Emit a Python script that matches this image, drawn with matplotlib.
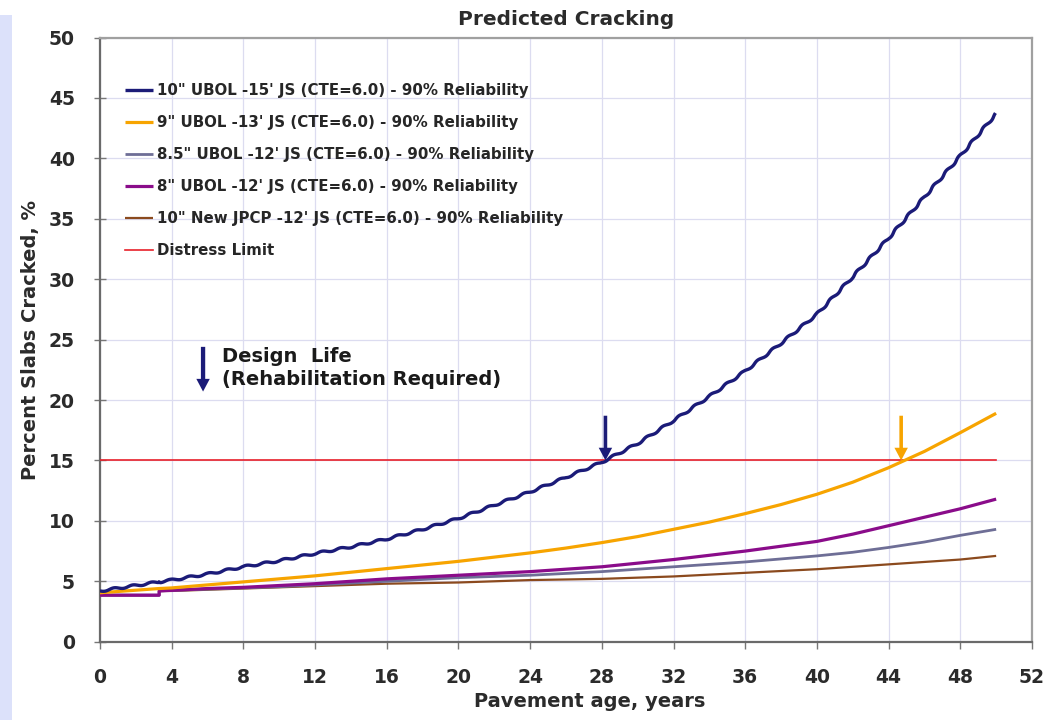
#!/usr/bin/env python3
"""Predicted slab cracking for UBOL and new JPCP design alternatives."""

import matplotlib

matplotlib.use("Agg")

import matplotlib.pyplot as plt
from matplotlib.patches import Rectangle


YEARS = [0, 3.3, 3.3, 4, 6, 8, 10, 12, 14, 16, 18, 20, 22, 24, 26,
         28, 30, 32, 34, 36, 38, 40, 42, 44, 46, 48, 50]
UBOL_10_15 = [4.2, 4.95, 4.95, 5.1, 5.6, 6.2, 6.7, 7.3, 7.85, 8.5, 9.3, 10.2, 11.3, 12.4, 13.6,
              14.85, 16.4, 18.3, 20.3, 22.4, 24.7, 27.1, 30.2, 33.4, 36.8, 40.2, 43.7]
UBOL_9_13 = [4.05, 4.4, 4.4, 4.45, 4.7, 4.95, 5.2, 5.45, 5.75, 6.05, 6.35, 6.65, 7.0, 7.35, 7.75,
             8.2, 8.7, 9.3, 9.9, 10.6, 11.35, 12.2, 13.2, 14.4, 15.75, 17.3, 18.9]
UBOL_85_12 = [3.85, 3.85, 4.2, 4.25, 4.35, 4.45, 4.55, 4.7, 4.85, 5.0, 5.15, 5.3, 5.4, 5.5, 5.65,
              5.8, 6.0, 6.2, 6.4, 6.6, 6.85, 7.1, 7.4, 7.8, 8.25, 8.8, 9.3]
UBOL_8_12 = [3.85, 3.85, 4.2, 4.25, 4.4, 4.5, 4.65, 4.8, 5.0, 5.2, 5.35, 5.5, 5.65, 5.8, 6.0,
             6.2, 6.5, 6.8, 7.15, 7.5, 7.9, 8.3, 8.9, 9.6, 10.3, 11.0, 11.8]
JPCP_10_12 = [3.85, 3.85, 4.2, 4.2, 4.3, 4.4, 4.5, 4.6, 4.7, 4.8, 4.85, 4.9, 5.0, 5.1, 5.15,
              5.2, 5.3, 5.4, 5.55, 5.7, 5.85, 6.0, 6.2, 6.4, 6.6, 6.8, 7.1]
DISTRESS_LIMIT = 15

SERIES_LABELS = [
    "10\" UBOL -15' JS (CTE=6.0) - 90% Reliability",
    "9\" UBOL -13' JS (CTE=6.0) - 90% Reliability",
    "8.5\" UBOL -12' JS (CTE=6.0) - 90% Reliability",
    "8\" UBOL -12' JS (CTE=6.0) - 90% Reliability",
    "10\" New JPCP -12' JS (CTE=6.0) - 90% Reliability",
    "Distress Limit",
]
X_TICKS = list(range(0, 53, 4))
Y_TICKS = list(range(0, 51, 5))

# year at which each curve hits the distress limit (blue, orange)
DESIGN_LIFE = [28.2, 44.7]
ARROW_TOP = 18.7
NOTE_ARROW = (5.75, 24.4, 20.7)

NAVY = "#1b1b78"
COLORS = [NAVY, "#f7a400", "#6e6e96", "#8a0c8a", "#8b4a1e", "#e8202a"]
WIDTHS = [2.4, 2.3, 2.0, 2.3, 1.6, 1.2]


def main() -> None:
    figure = plt.figure(figsize=(10.56, 7.2), dpi=100)
    figure.add_artist(Rectangle((0, 0), 12 / 1056, 1 - 15 / 720,
                                transform=figure.transFigure, color="#dce1fa", lw=0))
    axis = figure.add_axes([100 / 1056, 1 - 641.7 / 720, 932 / 1056, 604.2 / 720])

    series = [UBOL_10_15, UBOL_9_13, UBOL_85_12, UBOL_8_12, JPCP_10_12]
    lines = []
    for values, color, width, z in zip(series, COLORS, WIDTHS, (6, 5, 3, 4, 2)):
        (line,) = axis.plot(YEARS, values, color=color, lw=width, zorder=z,
                            solid_capstyle="butt")
        lines.append(line)
    (limit,) = axis.plot([YEARS[0], YEARS[-1]], [DISTRESS_LIMIT] * 2,
                         color=COLORS[5], lw=WIDTHS[5], zorder=3)
    lines.append(limit)
    # seasonal ripple of the monthly prediction
    lines[0].set_sketch_params(scale=1.0, length=19, randomness=1)

    legend = axis.legend(lines, SERIES_LABELS, loc="upper left",
                         bbox_to_anchor=(0.0268, 0.924), frameon=False,
                         borderpad=0, borderaxespad=0, handlelength=1.9,
                         handletextpad=0.25, labelspacing=1.13,
                         prop={"size": 10.8, "weight": "bold"})
    for handle in legend.get_lines():
        handle.set_sketch_params(None)
    for text in legend.get_texts():
        text.set_color("#262626")

    for year, color in zip(DESIGN_LIFE, (NAVY, COLORS[1])):
        axis.arrow(year, ARROW_TOP, 0, DISTRESS_LIMIT - ARROW_TOP, width=0.2,
                   head_width=0.75, head_length=1.05, length_includes_head=True,
                   color=color, lw=0, zorder=7)
    x, top, bottom = NOTE_ARROW
    axis.arrow(x, top, 0, bottom - top, width=0.24, head_width=0.75,
               head_length=1.05, length_includes_head=True, color=NAVY, lw=0, zorder=7)
    axis.text(x + 1.05, (top + bottom) / 2 + 0.1, "Design  Life\n(Rehabilitation Required)",
              fontsize=14, fontweight="bold", color="#1a1a1a", va="center", ha="left",
              linespacing=1.25)

    axis.set_xlim(0, 52)
    axis.set_ylim(0, 50)
    axis.set_xticks(X_TICKS)
    axis.set_yticks(Y_TICKS)
    axis.grid(True, color="#dcdcf0", lw=0.9)
    axis.set_axisbelow(True)
    axis.tick_params(axis="y", direction="inout", length=8, width=1, color="#777777",
                     pad=14, labelsize=13.5, labelcolor="#2b2b2b")
    axis.tick_params(axis="x", direction="out", length=5, width=1, color="#777777",
                     pad=14, labelsize=13.5, labelcolor="#2b2b2b")
    for label in axis.get_xticklabels() + axis.get_yticklabels():
        label.set_fontweight("bold")
    for side, color in (("left", "#6a6a6a"), ("bottom", "#6a6a6a"),
                        ("top", "#a0a0a0"), ("right", "#a0a0a0")):
        axis.spines[side].set_color(color)
        axis.spines[side].set_linewidth(1.6)

    axis.set_title("Predicted Cracking", fontsize=14.5, fontweight="bold",
                   color="#2b2b2b", pad=9)
    axis.set_xlabel("Pavement age, years", fontsize=14, fontweight="bold", color="#2b2b2b")
    axis.set_ylabel("Percent Slabs Cracked, %", fontsize=14, fontweight="bold", color="#2b2b2b")
    axis.xaxis.set_label_coords(0.525, -0.083)
    axis.yaxis.set_label_coords(-0.064, 0.5)

    figure.savefig("out.png", dpi=100)
    plt.close(figure)


if __name__ == "__main__":
    main()
